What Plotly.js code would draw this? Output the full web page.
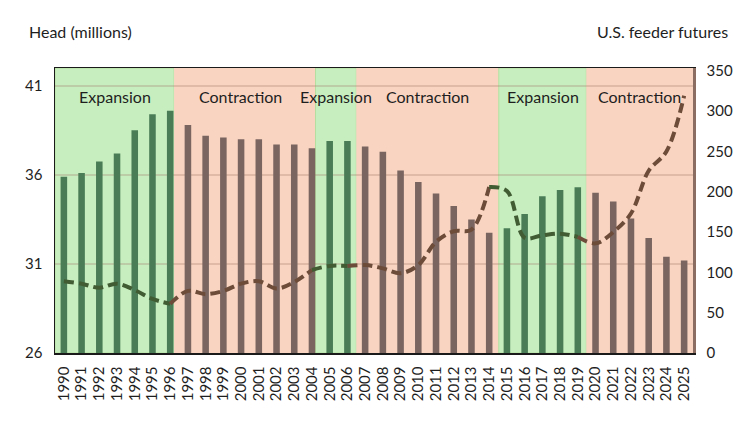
<!DOCTYPE html>
<html>
<head>
<meta charset="utf-8">
<script src="https://cdn.plot.ly/plotly-3.0.1.min.js"></script>
<style>
  html, body { margin: 0; padding: 0; background: #fff; }
  #chart { width: 750px; height: 422px; }
</style>
</head>
<body>
<div id="chart"></div>
<script>
var years = ['1990', '1991', '1992', '1993', '1994', '1995', '1996', '1997', '1998', '1999',
    '2000', '2001', '2002', '2003', '2004', '2005', '2006', '2007', '2008', '2009',
    '2010', '2011', '2012', '2013', '2014', '2015', '2016', '2017', '2018', '2019',
    '2020', '2021', '2022', '2023', '2024', '2025'];

// cattle head, millions (left axis)
var head = [35.9, 36.1, 36.75, 37.2, 38.5, 39.4, 39.6, 38.8, 38.2, 38.1,
    38.0, 38.0, 37.7, 37.7, 37.5, 37.9, 37.9, 37.6, 37.3, 36.25,
    35.6, 34.95, 34.25, 33.5, 32.75, 33.0, 33.8, 34.8, 35.15, 35.3,
    35.0, 34.5, 33.55, 32.45, 31.4, 31.2];

// U.S. feeder futures (right axis)
var futures = [89, 86, 81, 86, 78, 67, 61, 77, 73, 77,
    86, 89, 80, 88, 103, 108, 108, 109, 105, 99,
    109, 138, 151, 153, 206, 201, 143, 146, 148, 144,
    136, 150, 173, 226, 250, 319];

// E = expansion, C = contraction
var phase = ['E', 'E', 'E', 'E', 'E', 'E', 'E', 'C', 'C', 'C',
    'C', 'C', 'C', 'C', 'C', 'E', 'E', 'C', 'C', 'C',
    'C', 'C', 'C', 'C', 'C', 'E', 'E', 'E', 'E', 'E',
    'C', 'C', 'C', 'C', 'C', 'C'];

var phaseLabels = ['Expansion', 'Contraction', 'Expansion', 'Contraction', 'Expansion', 'Contraction'];

var GREEN_BAR = '#4a7d56';
var BROWN_BAR = '#7a6560';
var GREEN_BG = '#c7eebf';
var BROWN_BG = '#f9d4c1';
var GREEN_LINE = '#415c33';
var BROWN_LINE = '#6d4c3a';
var FONT = 'Lato, sans-serif';

var idx = years.map(function (y, i) { return i; });

// runs of the same phase
var runs = [];
for (var i = 0; i < phase.length; i++) {
    if (i === 0 || phase[i] !== phase[i - 1]) {
        runs.push({ p: phase[i], start: i, end: i });
    } else {
        runs[runs.length - 1].end = i;
    }
}

// shaded bands, edges nudged as in the original
var edges = [-0.5, 6.22, 14.2, 16.5, 24.54, 29.48, 35.5];
var labelShift = [0, -0.25, 0, 0, 0, 0];

var shapes = [];
var annotations = [];
runs.forEach(function (r, k) {
    var x0 = edges[k], x1 = edges[k + 1];
    shapes.push({
        type: 'rect', xref: 'x', yref: 'paper',
        x0: x0, x1: x1, y0: 0, y1: 1,
        fillcolor: r.p === 'E' ? GREEN_BG : BROWN_BG,
        line: { width: r.p === 'E' ? 1 : 0, color: '#b5de9f' },
        layer: 'below'
    });
    annotations.push({
        xref: 'x', yref: 'paper',
        x: (x0 + x1) / 2 + labelShift[k], y: 0.9, yanchor: 'middle',
        text: phaseLabels[k], showarrow: false,
        font: { family: FONT, size: 16, color: '#1e1e1e' }
    });
});

annotations.push({
    xref: 'paper', yref: 'paper', x: -0.044, y: 1.127,
    xanchor: 'left', yanchor: 'middle',
    text: 'Head (millions)', showarrow: false,
    font: { family: FONT, size: 16, color: '#1e1e1e' }
});
annotations.push({
    xref: 'paper', yref: 'paper', x: 1.058, y: 1.127,
    xanchor: 'right', yanchor: 'middle',
    text: 'U.S. feeder futures', showarrow: false,
    font: { family: FONT, size: 16, color: '#1e1e1e' }
});

var bars = {
    x: idx, y: head, type: 'bar', width: 0.37,
    marker: { color: phase.map(function (p) { return p === 'E' ? GREEN_BAR : BROWN_BAR; }) },
    hoverinfo: 'y', showlegend: false
};

var traces = [bars];
// dashed line, coloured by the phase each stretch runs into
runs.forEach(function (r, k) {
    var s = k === 0 ? r.start : r.start - 1;
    var xs = [], ys = [];
    for (var j = s; j <= r.end; j++) {
        xs.push(j);
        ys.push(futures[j]);
    }
    traces.push({
        x: xs, y: ys, type: 'scatter', mode: 'lines', yaxis: 'y2',
        line: { color: r.p === 'E' ? GREEN_LINE : BROWN_LINE, width: 4, dash: '10px,5px', shape: 'spline', smoothing: 1 },
        hoverinfo: 'y', showlegend: false
    });
});

var layout = {
    width: 750, height: 422,
    margin: { l: 55, r: 57, t: 68, b: 69 },
    paper_bgcolor: '#ffffff',
    plot_bgcolor: '#ffffff',
    xaxis: {
        range: [-0.5, 35.5],
        tickvals: idx, ticktext: years, tickangle: -90,
        showgrid: false, zeroline: false,
        showline: true, linecolor: '#1a1a1a', linewidth: 1.5, mirror: true,
        ticks: '', ticklabelstandoff: 6,
        tickfont: { family: FONT, size: 15, color: '#1e1e1e' }
    },
    yaxis: {
        range: [26, 42], tickvals: [26, 31, 36, 41],
        showgrid: true, gridcolor: 'rgba(160,120,100,0.28)', gridwidth: 1.5,
        zeroline: false, showline: true, linecolor: '#1a1a1a', linewidth: 1.5,
        ticks: '', ticklabelstandoff: 8,
        tickfont: { family: FONT, size: 15, color: '#1e1e1e' }
    },
    yaxis2: {
        overlaying: 'y', side: 'right',
        range: [0, 353.5], tickvals: [0, 50, 100, 150, 200, 250, 300, 350],
        showgrid: false, zeroline: false,
        showline: true, linecolor: '#8c6d62', linewidth: 2.5,
        ticks: '', ticklabelstandoff: 8,
        tickfont: { family: FONT, size: 15, color: '#1e1e1e' }
    },
    shapes: shapes,
    annotations: annotations
};

Plotly.newPlot('chart', traces, layout, { displayModeBar: false, staticPlot: true });
</script>
</body>
</html>
